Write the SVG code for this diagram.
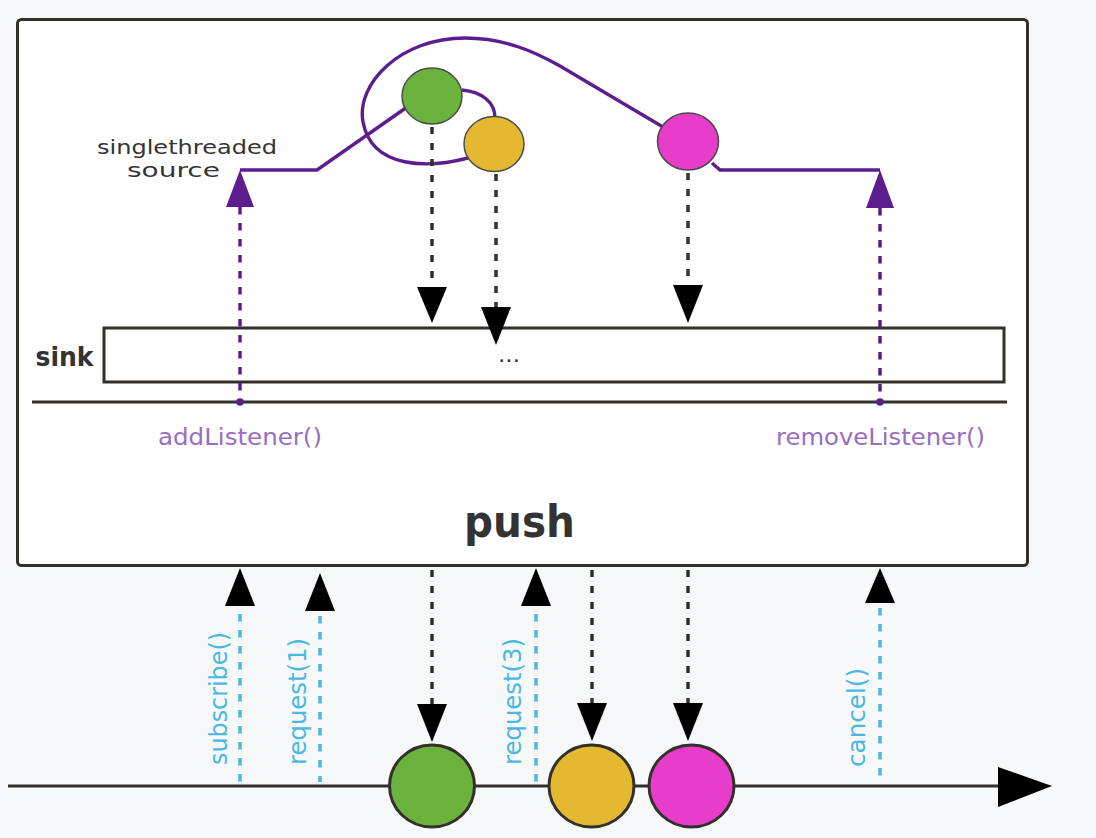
<svg xmlns="http://www.w3.org/2000/svg" width="1096" height="838" viewBox="0 0 1096 838">
<style>
  .frame{fill:#ffffff;stroke:#33302b;stroke-width:3}
  .line{fill:none;stroke:#33302b;stroke-width:3}
  .src{fill:none;stroke:#5c1e8e;stroke-width:3.4;stroke-linejoin:miter}
  .pdash{fill:none;stroke:#5c1e8e;stroke-width:3.5;stroke-dasharray:7.5 8.5}
  .bdash{fill:none;stroke:#33302b;stroke-width:3.5;stroke-dasharray:7 9}
  .cdash{fill:none;stroke:#4ab8e0;stroke-width:3.5;stroke-dasharray:7.5 8.5}
  .head{fill:#000000}
  .phead{fill:#5c1e8e}
  .small{stroke:#4a4a4a;stroke-width:1.5}
  .big{stroke:#33302b;stroke-width:3}
  .green{fill:#6cb33e}
  .yellow{fill:#e5b831}
  .magenta{fill:#e83ccb}
  .t{font-family:"DejaVu Sans","Liberation Sans",sans-serif}
  .dark{fill:#333333}
  .plabel{fill:#9a6cc4;font-size:23px}
  .clabel{fill:#4ab8e0;font-size:25px}
</style>
<rect width="1096" height="838" fill="#f6f8fa"/>

<g id="push">
  <rect class="frame" x="17.5" y="19.5" width="1010" height="546" rx="4"/>
  <text class="t dark" x="464" y="537" font-size="44" font-weight="bold" textLength="111" lengthAdjust="spacingAndGlyphs">push</text>
</g>

<g id="sink">
  <rect class="frame" x="104" y="328" width="900" height="54"/>
  <text class="t dark" x="35.5" y="366" font-size="26" font-weight="bold" textLength="58" lengthAdjust="spacingAndGlyphs">sink</text>
  <text class="t dark" x="498" y="362" font-size="22" textLength="22" lengthAdjust="spacingAndGlyphs">...</text>
</g>

<g id="divider">
  <line class="line" x1="32" y1="402" x2="1007" y2="402"/>
</g>

<g id="source">
  <text class="t dark" x="97" y="154" font-size="19.5" textLength="180" lengthAdjust="spacingAndGlyphs">singlethreaded</text>
  <text class="t dark" x="127" y="177" font-size="19.5" textLength="93" lengthAdjust="spacingAndGlyphs">source</text>
  <path class="src" d="M240 170 L317 170 L410 105"/>
  <path class="src" d="M462 90 C482 92 495 102 495 118"/>
  <path class="src" d="M468 158 C430 168 372 170 363 122 C356 84 400 38 465 38 C505 38 535 52 560 66 L663 127"/>
  <path class="src" d="M712 163 L720 170 L880 170"/>
</g>

<g id="timeline">
  <line class="line" x1="8" y1="786" x2="1000" y2="786"/>
  <polygon class="head" points="998,767 1052,786 998,807"/>
</g>

<g id="connectors">
  <line class="pdash" x1="240" y1="207" x2="240" y2="400"/>
  <polygon class="phead" points="240,170 254,207 226,207"/>
  <circle cx="240" cy="402" r="3.8" fill="#5c1e8e"/>
  <line class="pdash" x1="880" y1="208" x2="880" y2="400"/>
  <polygon class="phead" points="880,170 894,208 866,208"/>
  <circle cx="880" cy="402" r="3.8" fill="#5c1e8e"/>

  <line class="bdash" x1="432" y1="127" x2="432" y2="287"/>
  <polygon class="head" points="417,287 447,287 432,323"/>
  <line class="bdash" x1="496" y1="174" x2="496" y2="307"/>
  <polygon class="head" points="481,307 511,307 496,345"/>
  <line class="bdash" x1="688" y1="173" x2="688" y2="285"/>
  <polygon class="head" points="673,285 703,285 688,323"/>

  <line class="bdash" x1="432" y1="570" x2="432" y2="704"/>
  <polygon class="head" points="417,704 447,704 432,742"/>
  <line class="bdash" x1="592" y1="570" x2="592" y2="703"/>
  <polygon class="head" points="577,703 607,703 592,741"/>
  <line class="bdash" x1="688" y1="570" x2="688" y2="703"/>
  <polygon class="head" points="673,703 703,703 688,741"/>

  <line class="cdash" x1="240" y1="614" x2="240" y2="782"/>
  <polygon class="head" points="240,568 255,606 225,606"/>
  <line class="cdash" x1="320" y1="616" x2="320" y2="782"/>
  <polygon class="head" points="320,573 335,611 305,611"/>
  <line class="cdash" x1="536" y1="614" x2="536" y2="782"/>
  <polygon class="head" points="536,568 551,606 521,606"/>
  <line class="cdash" x1="880" y1="608" x2="880" y2="782"/>
  <polygon class="head" points="880,568 895,603 865,603"/>
</g>

<g id="labels">
  <text class="t plabel" x="158" y="445" textLength="164" lengthAdjust="spacingAndGlyphs">addListener()</text>
  <text class="t plabel" x="776" y="445" textLength="209" lengthAdjust="spacingAndGlyphs">removeListener()</text>
  <text class="t clabel" transform="translate(227,765) rotate(-90)" textLength="133" lengthAdjust="spacingAndGlyphs">subscribe()</text>
  <text class="t clabel" transform="translate(306,765) rotate(-90)" textLength="127" lengthAdjust="spacingAndGlyphs">request(1)</text>
  <text class="t clabel" transform="translate(521,765) rotate(-90)" textLength="127" lengthAdjust="spacingAndGlyphs">request(3)</text>
  <text class="t clabel" transform="translate(865,767) rotate(-90)" textLength="99" lengthAdjust="spacingAndGlyphs">cancel()</text>
</g>

<g id="source-green"><ellipse class="small green" cx="432" cy="96" rx="30" ry="28"/></g>
<g id="source-yellow"><ellipse class="small yellow" cx="494" cy="144" rx="30" ry="27.5"/></g>
<g id="source-magenta"><ellipse class="small magenta" cx="688" cy="141.5" rx="30.5" ry="28.5"/></g>

<g id="out-green"><ellipse class="big green" cx="432" cy="786" rx="42.5" ry="41"/></g>
<g id="out-yellow"><ellipse class="big yellow" cx="591.5" cy="786" rx="42.5" ry="41"/></g>
<g id="out-magenta"><ellipse class="big magenta" cx="691.5" cy="786" rx="42.5" ry="41"/></g>
</svg>
